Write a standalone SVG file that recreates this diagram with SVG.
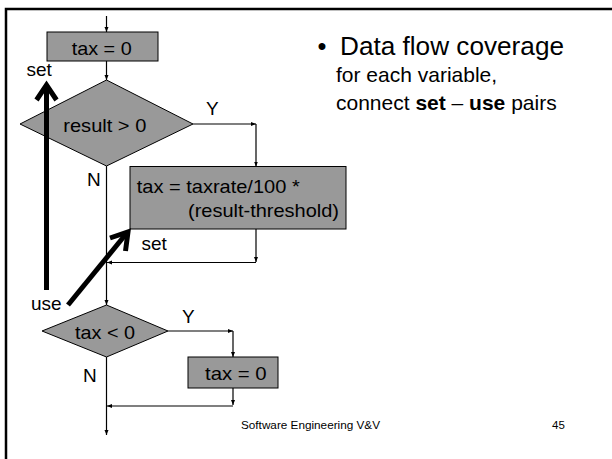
<svg xmlns="http://www.w3.org/2000/svg" width="612" height="459" viewBox="0 0 612 459">
  <defs>
    <marker id="tip" viewBox="0 0 10 10" refX="10" refY="5" markerWidth="5" markerHeight="5" orient="auto" markerUnits="userSpaceOnUse">
      <path d="M0,1 L10,5 L0,9 z" fill="#000"/>
    </marker>
    <style>
      .box{fill:#999;stroke:#000;stroke-width:1}
      .flow{fill:none;stroke:#000;stroke-width:1.2;marker-end:url(#tip)}
      .t{font-family:"Liberation Sans",Arial,sans-serif;fill:#000}
      .lbl{font-size:19px}
      .big{fill:none;stroke:#000;stroke-width:5;stroke-linejoin:miter}
      .frame{fill:none;stroke:#000;stroke-width:2.5}
    </style>
  </defs>

  <rect width="612" height="459" fill="#fff"/>

  <!-- slide frame -->
  <path class="frame" d="M6,459 V9 H612"/>

  <!-- connectors -->
  <g id="connectors">
    <path class="flow" d="M106.5,16 V32"/>
    <path class="flow" d="M106.5,61 V80"/>
    <path class="flow" d="M193,124 H256"/>
    <path class="flow" d="M256,124 V166.5"/>
    <path class="flow" d="M256,229 V262"/>
    <path class="flow" d="M256,262.5 H107"/>
    <path class="flow" d="M106.5,166 V305"/>
    <path class="flow" d="M168,331 H233"/>
    <path class="flow" d="M233,331 V357"/>
    <path class="flow" d="M233,388 V405"/>
    <path class="flow" d="M233,406 H107"/>
    <path class="flow" d="M106.5,357 V435"/>
  </g>

  <g id="init">
    <rect class="box" x="47" y="32" width="111" height="29"/>
    <text class="t lbl" x="71.7" y="54.5" textLength="60" lengthAdjust="spacingAndGlyphs">tax = 0</text>
  </g>

  <g id="test-result">
    <polygon class="box" points="106.5,80 193,124 106.5,166 20,124"/>
    <text class="t lbl" x="63.3" y="131.5" textLength="83" lengthAdjust="spacingAndGlyphs">result &gt; 0</text>
  </g>

  <g id="compute">
    <rect class="box" x="130" y="166.5" width="216" height="62.5"/>
    <text class="t lbl" x="136.7" y="193" textLength="163" lengthAdjust="spacingAndGlyphs">tax = taxrate/100 *</text>
    <text class="t lbl" x="188" y="216.5" textLength="151" lengthAdjust="spacingAndGlyphs">(result-threshold)</text>
  </g>

  <g id="test-tax">
    <polygon class="box" points="106.5,305 168,331 106.5,357 42,331"/>
    <text class="t lbl" x="75" y="339" textLength="60" lengthAdjust="spacingAndGlyphs">tax &lt; 0</text>
  </g>

  <g id="clamp">
    <rect class="box" x="188" y="357" width="90" height="31"/>
    <text class="t lbl" x="205" y="379.5" textLength="61.7" lengthAdjust="spacingAndGlyphs">tax = 0</text>
  </g>

  <!-- branch labels -->
  <g id="labels">
    <text class="t lbl" x="206" y="115">Y</text>
    <text class="t lbl" x="87" y="186">N</text>
    <text class="t lbl" x="182" y="323">Y</text>
    <text class="t lbl" x="83" y="382">N</text>
    <text class="t lbl" x="26.5" y="76">set</text>
    <text class="t lbl" x="141.5" y="250">set</text>
    <text class="t lbl" x="31" y="310">use</text>
  </g>

  <!-- set/use pointers -->
  <g id="pointers">
    <path class="big" d="M46.5,290 V86"/>
    <polyline class="big" points="36.5,100 46.5,85 56.5,100"/>
    <path class="big" d="M68,305 L126,234"/>
    <polyline class="big" points="110,238 128,232 125.5,251"/>
  </g>

  <!-- bullet text -->
  <g id="notes">
    <text class="t" x="317.5" y="55" font-size="25.5">•</text>
    <text class="t" x="340" y="55" font-size="25.5" textLength="224" lengthAdjust="spacingAndGlyphs">Data flow coverage</text>
    <text class="t" x="336" y="82" font-size="21">for each variable,</text>
    <text class="t" x="336" y="110" font-size="21">connect <tspan font-weight="bold">set</tspan> – <tspan font-weight="bold">use</tspan> pairs</text>
  </g>

  <g id="footer">
    <text class="t" x="241" y="429" font-size="11.5" textLength="139" lengthAdjust="spacingAndGlyphs">Software Engineering V&amp;V</text>
    <text class="t" x="552" y="429" font-size="11.5">45</text>
  </g>
</svg>
